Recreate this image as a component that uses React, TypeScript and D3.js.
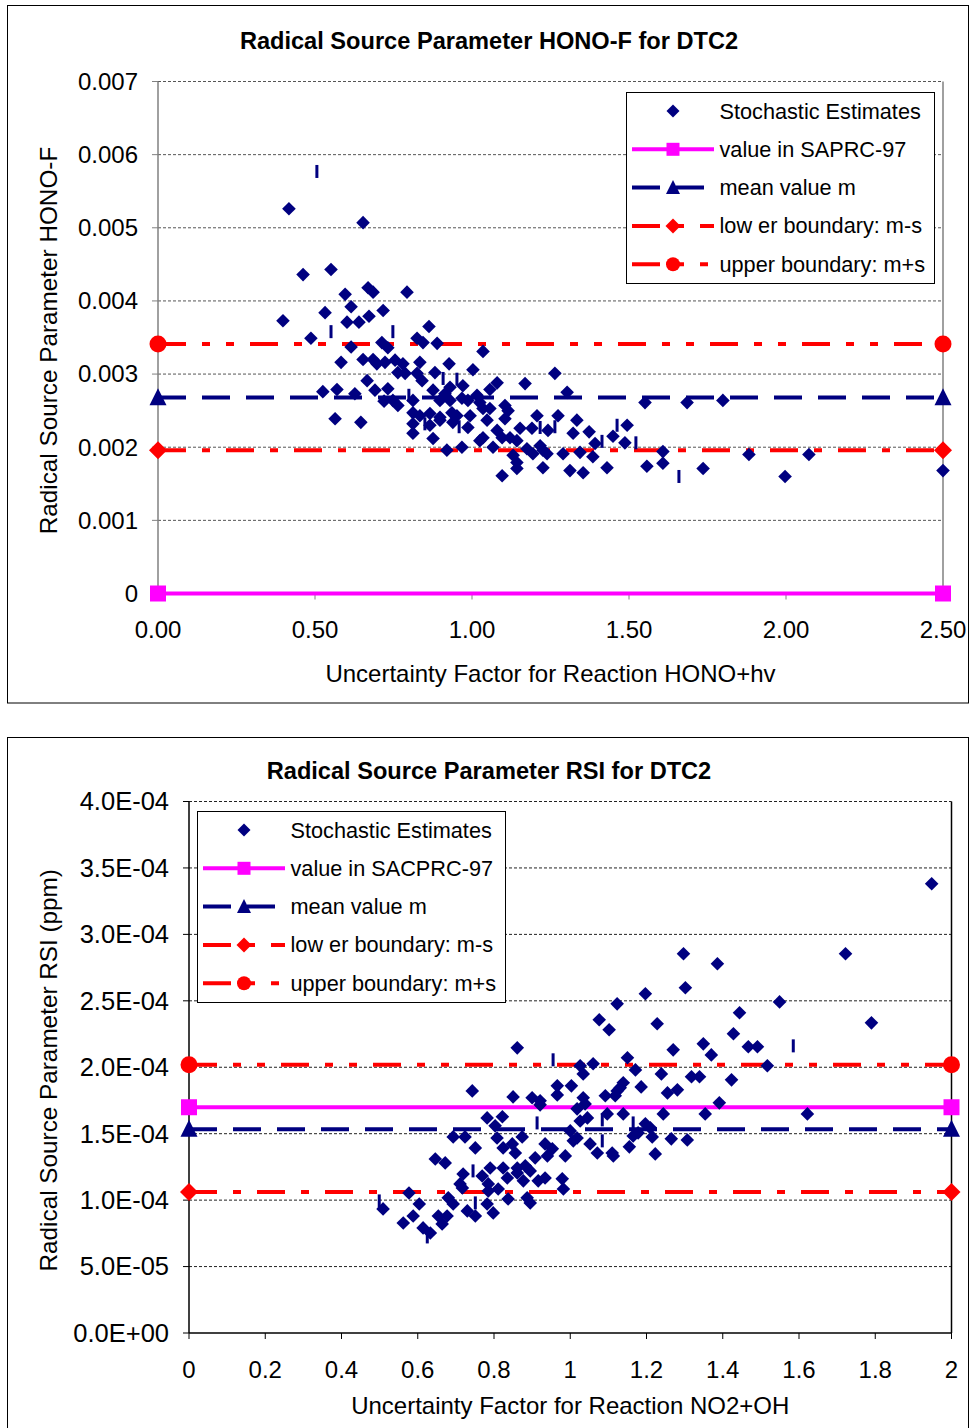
import React from 'react';
import * as d3 from 'd3';

const FONT = "'Liberation Sans', Arial, Helvetica, sans-serif";
const NAVY = '#000080';
const MAGENTA = '#FF00FF';
const RED = '#FF0000';

// ---------- Chart 1: Radical Source Parameter HONO-F ----------
const honoFactor = [
  0.417, 0.653, 0.462, 0.551, 0.596, 0.669, 0.685, 0.793, 0.398, 0.532,
  0.615, 0.602, 0.640, 0.672, 0.717, 0.487, 0.863, 0.615, 0.713, 0.732,
  0.825, 0.844, 0.889, 1.035, 0.583, 0.653, 0.685, 0.697, 0.723, 0.755,
  0.780, 0.764, 0.787, 0.834, 0.927, 0.882, 1.003, 0.666, 0.691, 0.732,
  0.525, 0.570, 0.627, 0.841, 1.080, 0.876, 0.914, 0.930, 0.971, 1.057,
  0.720, 0.764, 0.748, 0.812, 0.898, 0.930, 0.968, 0.987, 1.016, 1.025,
  1.035, 1.057, 1.105, 1.115, 0.564, 0.646, 0.812, 0.834, 0.866, 0.898,
  0.936, 0.952, 0.994, 0.812, 0.866, 0.898, 0.939, 0.987, 1.048, 1.105,
  0.812, 0.876, 1.035, 1.025, 1.080, 1.096, 1.121, 1.143, 1.264, 1.169,
  1.303, 1.207, 1.274, 1.334, 1.494, 1.153, 1.191, 1.242, 1.322, 1.373,
  1.449, 1.487, 1.392, 1.067, 1.175, 1.217, 1.226, 0.920, 0.968, 1.131,
  1.143, 1.143, 1.194, 1.239, 1.290, 1.344, 1.385, 1.226, 1.312, 1.354,
  1.430, 1.096, 1.551, 1.685, 1.799, 1.608, 1.608, 1.557, 1.736, 1.882,
  2.073, 1.997, 2.500, 0.825,
];
const honoParam = [
  0.00526, 0.00507, 0.00436, 0.00443, 0.00409, 0.00418, 0.00412, 0.00412, 0.00373, 0.00384,
  0.00392, 0.00371, 0.00371, 0.00379, 0.00387, 0.00349, 0.00365, 0.00337, 0.00343, 0.00336,
  0.00349, 0.00343, 0.00342, 0.00331, 0.00316, 0.00320, 0.00320, 0.00314, 0.00316, 0.00319,
  0.00314, 0.00302, 0.00301, 0.00316, 0.00314, 0.00302, 0.00306, 0.00291, 0.00278, 0.00280,
  0.00276, 0.00279, 0.00273, 0.00291, 0.00288, 0.00278, 0.00273, 0.00282, 0.00284, 0.00279,
  0.00263, 0.00257, 0.00264, 0.00264, 0.00264, 0.00264, 0.00267, 0.00264, 0.00271, 0.00261,
  0.00253, 0.00253, 0.00257, 0.00250, 0.00239, 0.00234, 0.00247, 0.00243, 0.00246, 0.00241,
  0.00247, 0.00243, 0.00243, 0.00232, 0.00230, 0.00237, 0.00234, 0.00227, 0.00237, 0.00239,
  0.00219, 0.00212, 0.00213, 0.00209, 0.00223, 0.00213, 0.00213, 0.00209, 0.00301, 0.00287,
  0.00275, 0.00243, 0.00243, 0.00237, 0.00230, 0.00226, 0.00226, 0.00223, 0.00219, 0.00221,
  0.00215, 0.00206, 0.00205, 0.00200, 0.00198, 0.00202, 0.00196, 0.00196, 0.00200, 0.00189,
  0.00179, 0.00171, 0.00191, 0.00191, 0.00191, 0.00193, 0.00187, 0.00172, 0.00168, 0.00165,
  0.00172, 0.00161, 0.00261, 0.00261, 0.00264, 0.00194, 0.00178, 0.00174, 0.00171, 0.00190,
  0.00190, 0.00160, 0.00168, 0.00301,
];
// partially drawn estimate markers (thin vertical stubs in the original)
const honoStubFactor = [0.506, 0.551, 0.748, 0.908, 0.952, 0.799, 0.850, 0.959, 1.217, 1.264, 1.462, 1.414, 1.522, 1.659];
const honoStubParam = [0.00577, 0.00358, 0.00358, 0.00294, 0.00293, 0.00271, 0.00232, 0.00228, 0.00227, 0.00228, 0.00230, 0.00208, 0.00206, 0.00160];
const honoSaprc = 0;
const honoMean = 0.00268;
const honoLower = 0.00196;
const honoUpper = 0.00341;
const honoXTicks = [0, 0.5, 1.0, 1.5, 2.0, 2.5];
const honoYTicks = [0, 0.001, 0.002, 0.003, 0.004, 0.005, 0.006, 0.007];
const honoLegend = ['Stochastic Estimates', 'value in SAPRC-97', 'mean value m', 'low er boundary: m-s', 'upper boundary: m+s'];

// ---------- Chart 2: Radical Source Parameter RSI ----------
const rsiFactor = [
  0.861, 0.743, 0.850, 0.900, 0.921, 0.921, 0.966, 1.003, 0.966, 1.026,
  1.060, 1.034, 1.092, 1.123, 1.018, 1.039, 1.045, 1.026, 1.097, 0.782,
  0.822, 0.803, 0.808, 0.693, 0.724, 0.874, 0.751, 0.824, 0.848, 0.856,
  0.934, 0.953, 0.940, 0.908, 0.987, 1.000, 1.018, 1.008, 1.052, 1.071,
  1.110, 1.113, 0.646, 0.672, 0.790, 0.824, 0.861, 0.882, 0.895, 0.719,
  0.711, 0.717, 0.769, 0.785, 0.835, 0.861, 0.877, 0.916, 0.934, 0.811,
  0.785, 0.979, 0.982, 0.837, 0.887, 0.895, 0.577, 0.604, 0.509, 0.680,
  0.693, 0.782, 0.798, 0.730, 0.751, 0.588, 0.562, 0.654, 0.677, 0.664,
  0.614, 0.633, 1.297, 1.386, 1.302, 1.197, 1.123, 1.549, 1.076, 1.102,
  1.228, 1.444, 1.428, 1.349, 1.370, 1.467, 1.491, 1.270, 1.150, 1.517,
  1.171, 1.239, 1.318, 1.339, 1.423, 1.139, 1.131, 1.186, 1.255, 1.281,
  1.391, 1.139, 1.244, 1.354, 1.197, 1.210, 1.178, 1.165, 1.215, 1.155,
  1.265, 1.307, 1.223, 1.948, 1.722, 1.790, 1.622, 1.118, 1.034,
];
const rsiParam = [
  2.146e-4, 1.822e-4, 1.777e-4, 1.770e-4, 1.747e-4, 1.717e-4, 1.860e-4, 1.860e-4, 1.792e-4, 2.011e-4,
  2.026e-4, 1.950e-4, 1.785e-4, 1.822e-4, 1.687e-4, 1.724e-4, 1.619e-4, 1.596e-4, 1.649e-4, 1.619e-4,
  1.627e-4, 1.559e-4, 1.468e-4, 1.476e-4, 1.476e-4, 1.476e-4, 1.393e-4, 1.393e-4, 1.423e-4, 1.355e-4,
  1.423e-4, 1.386e-4, 1.333e-4, 1.318e-4, 1.333e-4, 1.521e-4, 1.468e-4, 1.446e-4, 1.423e-4, 1.355e-4,
  1.355e-4, 1.333e-4, 1.310e-4, 1.280e-4, 1.242e-4, 1.242e-4, 1.242e-4, 1.258e-4, 1.220e-4, 1.197e-4,
  1.122e-4, 1.092e-4, 1.182e-4, 1.122e-4, 1.167e-4, 1.205e-4, 1.145e-4, 1.145e-4, 1.167e-4, 1.084e-4,
  1.069e-4, 1.160e-4, 1.084e-4, 1.009e-4, 1.017e-4, 0.979e-4, 1.054e-4, 0.971e-4, 0.934e-4, 1.017e-4,
  0.971e-4, 0.971e-4, 0.904e-4, 0.919e-4, 0.881e-4, 0.881e-4, 0.828e-4, 0.881e-4, 0.881e-4, 0.821e-4,
  0.791e-4, 0.753e-4, 2.854e-4, 2.779e-4, 2.598e-4, 2.553e-4, 2.477e-4, 2.492e-4, 2.357e-4, 2.282e-4,
  2.327e-4, 2.410e-4, 2.252e-4, 2.176e-4, 2.093e-4, 2.154e-4, 2.154e-4, 2.131e-4, 2.071e-4, 2.011e-4,
  1.980e-4, 1.950e-4, 1.928e-4, 1.928e-4, 1.905e-4, 1.883e-4, 1.845e-4, 1.852e-4, 1.807e-4, 1.830e-4,
  1.732e-4, 1.649e-4, 1.649e-4, 1.649e-4, 1.574e-4, 1.544e-4, 1.506e-4, 1.483e-4, 1.476e-4, 1.401e-4,
  1.461e-4, 1.453e-4, 1.348e-4, 3.381e-4, 2.854e-4, 2.334e-4, 1.649e-4, 1.785e-4, 1.770e-4,
];
const rsiStubFactor = [0.499, 0.955, 0.913, 1.084, 1.084, 0.745, 0.751, 0.625, 1.585, 1.165];
const rsiStubParam = [0.994e-4, 2.056e-4, 1.581e-4, 1.604e-4, 1.446e-4, 1.220e-4, 0.979e-4, 0.723e-4, 2.161e-4, 1.581e-4];
const rsiSaprc = 1.699e-4;
const rsiMean = 1.534e-4;
const rsiLower = 1.061e-4;
const rsiUpper = 2.019e-4;
const rsiXTicks = [0, 0.2, 0.4, 0.6, 0.8, 1, 1.2, 1.4, 1.6, 1.8, 2];
const rsiYTicks = [0, 0.5e-4, 1.0e-4, 1.5e-4, 2.0e-4, 2.5e-4, 3.0e-4, 3.5e-4, 4.0e-4];
const rsiLegend = ['Stochastic Estimates', 'value in SACPRC-97', 'mean value m', 'low er boundary: m-s', 'upper boundary: m+s'];

const fmtSci = (v: number) => {
  const [m, e] = v.toExponential(1).split('e');
  const n = parseInt(e, 10);
  const sign = n < 0 ? '-' : '+';
  return `${m}E${sign}${String(Math.abs(n)).padStart(2, '0')}`;
};

type Cfg = {
  frameY0: number; frameY1: number;
  px0: number; px1: number; py0: number; py1: number;
  xMax: number; yMax: number;
  xTicks: number[]; xFmt: (v: number) => string;
  yTicks: number[]; yFmt: (v: number) => string; yTickSize: number;
  title: string; titleY: number;
  xTitle: string; xTitleY: number; xTickY: number;
  yTitle: string;
  xs: number[]; ys: number[];
  stubX: number[]; stubY: number[];
  ref: number; mean: number; lower: number; upper: number;
  legendX: number; legendY: number; legendLabels: string[];
  axisColor: string; gridColor: string;
};

const diamondPath = (r: number) => `M0,${-r}L${r},0L0,${r}L${-r},0Z`;
const trianglePath = (s: number) => `M0,${-s * 0.55}L${s / 2},${s * 0.45}L${-s / 2},${s * 0.45}Z`;

function Marker({ kind, cx, cy, size, color }: { kind: string; cx: number; cy: number; size: number; color: string }) {
  if (kind === 'square') return <rect x={cx - size / 2} y={cy - size / 2} width={size} height={size} fill={color} />;
  if (kind === 'circle') return <circle cx={cx} cy={cy} r={size / 2} fill={color} />;
  if (kind === 'triangle') return <path d={trianglePath(size)} transform={`translate(${cx},${cy})`} fill={color} />;
  if (kind === 'diamond') return <path d={diamondPath(size / 2)} transform={`translate(${cx},${cy})`} fill={color} />;
  return null;
}

function Panel({ c }: { c: Cfg }) {
  const x = d3.scaleLinear().domain([0, c.xMax]).range([c.px0, c.px1]);
  const y = d3.scaleLinear().domain([0, c.yMax]).range([c.py0, c.py1]);
  const line = d3.line<[number, number]>().x((d) => x(d[0])).y((d) => y(d[1]));
  const refs = [
    { v: c.ref, color: MAGENTA, dash: undefined as string | undefined, kind: 'square', size: 16, lsize: 13 },
    { v: c.mean, color: NAVY, dash: '28,16', kind: 'triangle', size: 17, lsize: 14 },
    { v: c.lower, color: RED, dash: '28,16,8,16', kind: 'diamond', size: 18, lsize: 15 },
    { v: c.upper, color: RED, dash: '28,16,8,16,8,16', kind: 'circle', size: 17, lsize: 14 },
  ];
  const midX = (c.px0 + c.px1) / 2;
  const midY = (c.py0 + c.py1) / 2 + 3;
  const lw = 308, lh = 191;
  const rowGap = 38.3;
  return (
    <g>
      <rect x={7.5} y={c.frameY0} width={961} height={c.frameY1 - c.frameY0} fill="#fff" stroke="#000" strokeWidth={1} />
      <text x={489} y={c.titleY} dy="0.35em" textAnchor="middle" fontSize={23.6} fontWeight="bold">{c.title}</text>
      {/* gridlines */}
      {c.yTicks.filter((t) => t > 0).map((t) => (
        <line key={'g' + t} x1={c.px0} x2={c.px1} y1={y(t)} y2={y(t)} stroke={c.gridColor} strokeWidth={1} strokeDasharray="3,2" />
      ))}
      {/* axes */}
      <line x1={c.px0} x2={c.px0} y1={c.py1} y2={c.py0} stroke={c.axisColor} strokeWidth={1.5} />
      <line x1={c.px1} x2={c.px1} y1={c.py1} y2={c.py0} stroke={c.axisColor} strokeWidth={1.5} />
      <line x1={c.px0} x2={c.px1} y1={c.py0} y2={c.py0} stroke={c.axisColor} strokeWidth={1.5} />
      {c.yTicks.map((t) => (
        <g key={'yt' + t}>
          <line x1={c.px0 - 6} x2={c.px0} y1={y(t)} y2={y(t)} stroke={c.axisColor} strokeWidth={1} />
          <text x={c.px0 - 20} y={y(t)} dy="0.35em" textAnchor="end" fontSize={c.yTickSize}>{c.yFmt(t)}</text>
        </g>
      ))}
      {c.xTicks.map((t) => (
        <g key={'xt' + t}>
          <line x1={x(t)} x2={x(t)} y1={c.py0} y2={c.py0 + 6} stroke={c.axisColor} strokeWidth={1} />
          <text x={x(t)} y={c.xTickY} dy="0.35em" textAnchor="middle" fontSize={24}>{c.xFmt(t)}</text>
        </g>
      ))}
      <text x={midX} y={c.xTitleY} dy="0.35em" textAnchor="middle" fontSize={24}>{c.xTitle}</text>
      <text transform={`translate(48,${midY}) rotate(-90)`} dy="0.35em" textAnchor="middle" fontSize={24.3}>{c.yTitle}</text>
      {/* reference lines */}
      {refs.map((r, i) => (
        <g key={'r' + i}>
          <path d={line([[0, r.v], [c.xMax, r.v]]) || ''} stroke={r.color} strokeWidth={4} fill="none" strokeDasharray={r.dash} />
          <Marker kind={r.kind} cx={x(0)} cy={y(r.v)} size={r.size} color={r.color} />
          <Marker kind={r.kind} cx={x(c.xMax)} cy={y(r.v)} size={r.size} color={r.color} />
        </g>
      ))}
      {/* stochastic estimates */}
      {c.xs.map((v, i) => (
        <path key={'p' + i} d={diamondPath(6.8)} transform={`translate(${x(v)},${y(c.ys[i])})`} fill={NAVY} />
      ))}
      {c.stubX.map((v, i) => (
        <rect key={'s' + i} x={x(v) - 1.5} y={y(c.stubY[i]) - 6.5} width={3} height={13} fill={NAVY} />
      ))}
      {/* legend */}
      <g transform={`translate(${c.legendX},${c.legendY})`}>
        <rect x={0.5} y={0.5} width={lw} height={lh} fill="#fff" stroke="#000" strokeWidth={1} />
        {c.legendLabels.map((lab, i) => {
          const cy = 19 + i * rowGap;
          return (
            <g key={'l' + i}>
              {i === 0 ? (
                <path d={diamondPath(6.5)} transform={`translate(47,${cy})`} fill={NAVY} />
              ) : (
                <g>
                  <line x1={6} x2={88} y1={cy} y2={cy} stroke={refs[i - 1].color} strokeWidth={4} strokeDasharray={refs[i - 1].dash} />
                  <Marker kind={refs[i - 1].kind} cx={47} cy={cy} size={refs[i - 1].lsize} color={refs[i - 1].color} />
                </g>
              )}
              <text x={93.5} y={cy} dy="0.35em" fontSize={21.7}>{lab}</text>
            </g>
          );
        })}
      </g>
    </g>
  );
}

const honoCfg: Cfg = {
  frameY0: 5.5, frameY1: 703,
  px0: 158, px1: 943, py0: 593.5, py1: 81.5,
  xMax: 2.5, yMax: 0.007,
  xTicks: honoXTicks, xFmt: (v) => v.toFixed(2),
  yTicks: honoYTicks, yFmt: (v) => (v === 0 ? '0' : v.toFixed(3)), yTickSize: 24,
  title: 'Radical Source Parameter HONO-F for DTC2', titleY: 41,
  xTitle: 'Uncertainty Factor for Reaction HONO+hv', xTitleY: 674, xTickY: 630,
  yTitle: 'Radical Source Parameter HONO-F',
  xs: honoFactor, ys: honoParam,
  stubX: honoStubFactor, stubY: honoStubParam,
  ref: honoSaprc, mean: honoMean, lower: honoLower, upper: honoUpper,
  legendX: 626, legendY: 92, legendLabels: honoLegend,
  axisColor: '#808080', gridColor: '#555',
};

const rsiCfg: Cfg = {
  frameY0: 737.5, frameY1: 1440,
  px0: 189, px1: 951.5, py0: 1333, py1: 801.5,
  xMax: 2, yMax: 4e-4,
  xTicks: rsiXTicks, xFmt: (v) => String(+v.toFixed(1)),
  yTicks: rsiYTicks, yFmt: fmtSci, yTickSize: 25.5,
  title: 'Radical Source Parameter RSI for DTC2', titleY: 771,
  xTitle: 'Uncertainty Factor for Reaction NO2+OH', xTitleY: 1406, xTickY: 1370,
  yTitle: 'Radical Source Parameter RSI (ppm)',
  xs: rsiFactor, ys: rsiParam,
  stubX: rsiStubFactor, stubY: rsiStubParam,
  ref: rsiSaprc, mean: rsiMean, lower: rsiLower, upper: rsiUpper,
  legendX: 197, legendY: 811, legendLabels: rsiLegend,
  axisColor: '#000', gridColor: '#222',
};

export default function App() {
  return (
    <svg width={970} height={1428} style={{ position: 'absolute', left: 0, top: 0, background: '#fff' }} fontFamily={FONT}>
      <rect width={970} height={1428} fill="#fff" />
      <Panel c={honoCfg} />
      <Panel c={rsiCfg} />
    </svg>
  );
}
